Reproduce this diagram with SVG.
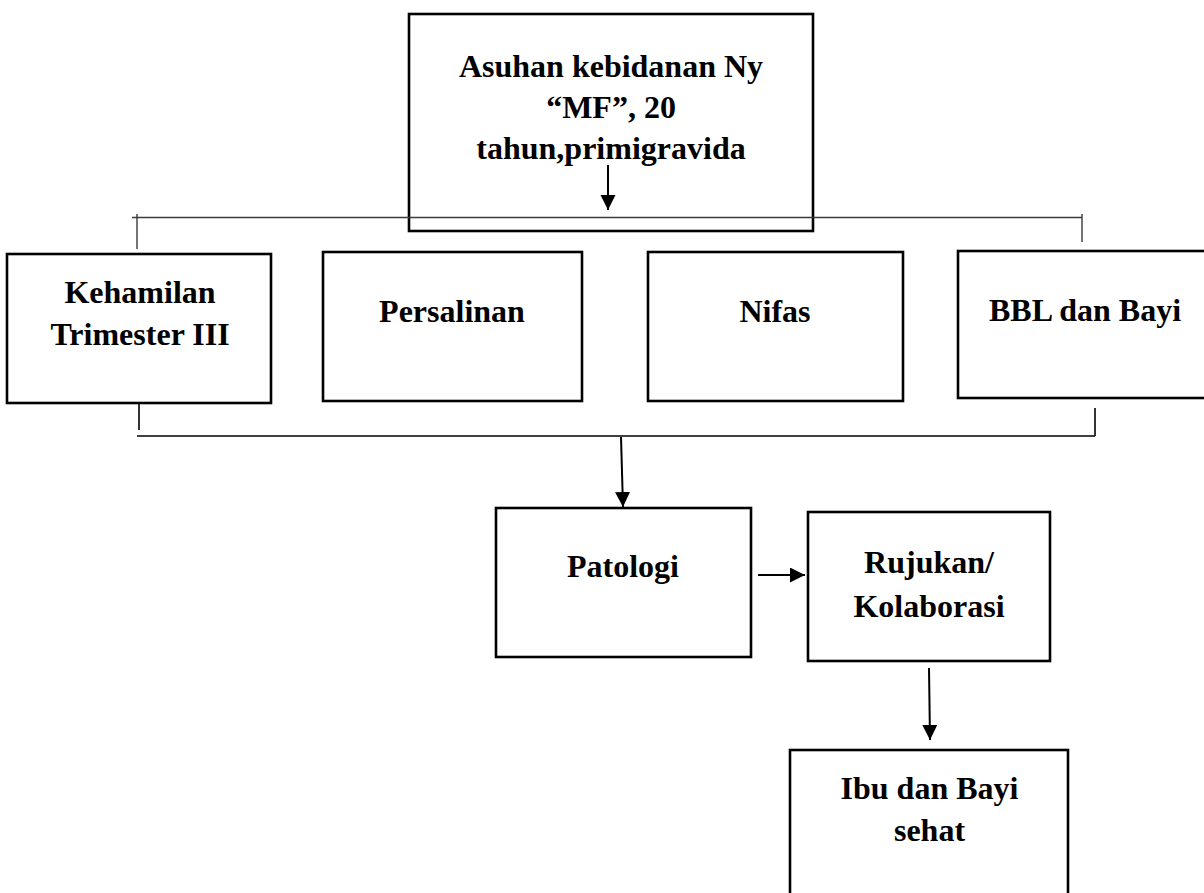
<svg xmlns="http://www.w3.org/2000/svg" width="1204" height="893" viewBox="0 0 1204 893">
<style>
.box{fill:#fff;stroke:#000;stroke-width:2.6}
.lbl{font-family:"Liberation Serif","Times New Roman",serif;font-weight:bold;font-size:32px;fill:#000;text-anchor:middle}
.thin{stroke:#3a3a3a;stroke-width:1.4;fill:none}
.ln{stroke:#000;stroke-width:1.6;fill:none}
.arr{stroke:#000;stroke-width:2;fill:none;marker-end:url(#ah)}
</style>
<defs>
<marker id="ah" markerUnits="userSpaceOnUse" markerWidth="16" markerHeight="16" refX="15" refY="7.5" orient="auto">
<path d="M0,0 L15,7.5 L0,15 z" fill="#000"/>
</marker>
</defs>
<rect width="1204" height="893" fill="#fff"/>
<g id="n-asuhan">
<rect class="box" x="409" y="14" width="404" height="217"/>
<text class="lbl" x="611" y="77">Asuhan kebidanan Ny</text>
<text class="lbl" x="611" y="118">“MF”, 20</text>
<text class="lbl" x="611" y="159">tahun,primigravida</text>
</g>
<g id="n-kehamilan">
<rect class="box" x="7" y="254" width="264" height="149"/>
<text class="lbl" x="140" y="303">Kehamilan</text>
<text class="lbl" x="140" y="345">Trimester III</text>
</g>
<g id="n-persalinan">
<rect class="box" x="323" y="252" width="259" height="149"/>
<text class="lbl" x="452" y="322">Persalinan</text>
</g>
<g id="n-nifas">
<rect class="box" x="648" y="252" width="255" height="149"/>
<text class="lbl" x="775" y="322">Nifas</text>
</g>
<g id="n-bbl">
<rect class="box" x="958" y="251" width="250" height="147"/>
<text class="lbl" x="1085" y="321">BBL dan Bayi</text>
</g>
<g id="n-patologi">
<rect class="box" x="496" y="508" width="255" height="149"/>
<text class="lbl" x="623" y="577">Patologi</text>
</g>
<g id="n-rujukan">
<rect class="box" x="808" y="512" width="242" height="149"/>
<text class="lbl" x="929" y="573">Rujukan/</text>
<text class="lbl" x="929" y="617">Kolaborasi</text>
</g>
<g id="n-ibu">
<rect class="box" x="790" y="750" width="278" height="150"/>
<text class="lbl" x="929.5" y="799">Ibu dan Bayi</text>
<text class="lbl" x="929.5" y="841">sehat</text>
</g>
<g id="connectors">
<line class="thin" x1="132" y1="217.5" x2="1082" y2="217.5"/>
<line class="thin" x1="137" y1="214" x2="137" y2="249"/>
<line class="thin" x1="1082" y1="214" x2="1082" y2="242"/>
<line class="arr" x1="608" y1="165" x2="608" y2="210"/>
<line class="ln" x1="139" y1="403" x2="139" y2="430"/>
<line class="ln" x1="1095" y1="408" x2="1095" y2="436"/>
<line class="ln" x1="137" y1="436" x2="1095" y2="436"/>
<line class="arr" x1="621" y1="437" x2="623" y2="507"/>
<line class="arr" x1="758" y1="575" x2="805" y2="575"/>
<line class="arr" x1="929" y1="668" x2="930" y2="740"/>
</g>
</svg>
